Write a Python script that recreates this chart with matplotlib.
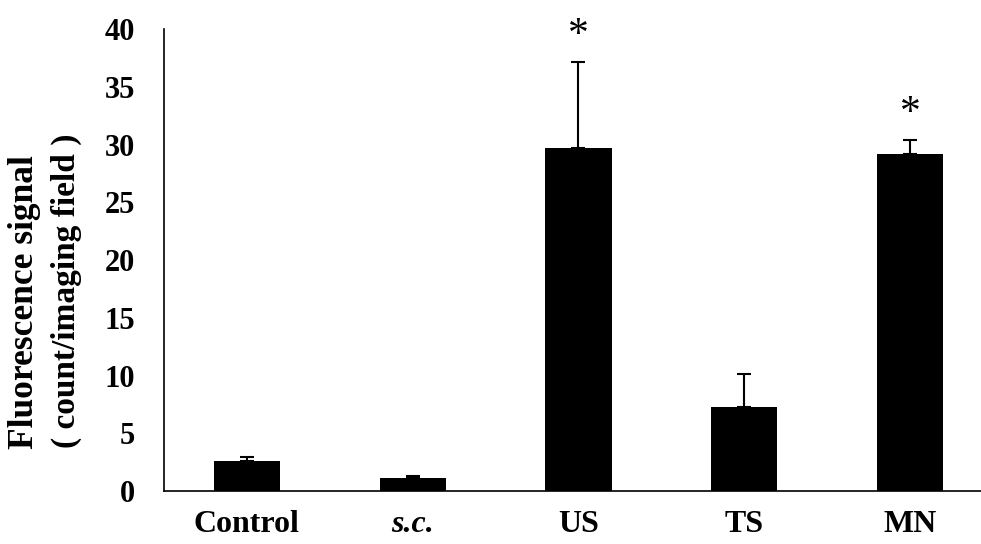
import matplotlib
matplotlib.use("Agg")
import matplotlib.pyplot as plt
import numpy as np

plt.rcParams['font.family'] = ['Liberation Serif', 'DejaVu Serif']

groups = ['Control', 's.c.', 'US', 'TS', 'MN']
means = [2.58, 1.13, 29.7, 7.29, 29.23]
errs = [0.4, 0.17, 7.5, 2.84, 1.2]
stars = ['', '', '*', '', '*']

fig = plt.figure(figsize=(9.81, 5.44), dpi=100)
ax = fig.add_axes([0.1672, 0.0974, 0.833, 0.8487])

x = np.arange(len(groups))
ax.bar(x, means, width=0.4, color='black')
ax.errorbar(x, means, yerr=[np.zeros(len(errs)), errs], fmt='none',
            ecolor='black', elinewidth=1.5, capsize=5, capthick=1.5)

# significance marks above the error bars
for xi, m, e, s in zip(x, means, errs, stars):
    if s:
        ax.text(xi, m + e + 0.55, s, ha='center', va='bottom', fontsize=30)

ax.set_xlim(-0.5, 4.43)
ax.set_ylim(0, 40)
ax.set_yticks(range(0, 41, 5))
ax.set_xticks(x)
ax.set_xticklabels(groups, fontsize=23, fontweight='bold')
ax.get_xticklabels()[1].set_fontstyle('italic')
ax.tick_params(axis='y', length=0, labelsize=22, pad=21)
for t in ax.get_yticklabels():
    t.set_fontweight('bold')
ax.tick_params(axis='x', length=0, pad=14)

ax.spines['top'].set_visible(False)
ax.spines['right'].set_visible(False)
for sp in ['left', 'bottom']:
    ax.spines[sp].set_linewidth(1.2)

fig.text(25 / 981, 1 - 302 / 544, 'Fluorescence signal', rotation=90,
         ha='center', va='center', fontsize=25.5, fontweight='bold')
fig.text(66 / 981, 1 - 291 / 544, '( count/imaging field )', rotation=90,
         ha='center', va='center', fontsize=24, fontweight='bold')

fig.savefig('out.png', dpi=100)
